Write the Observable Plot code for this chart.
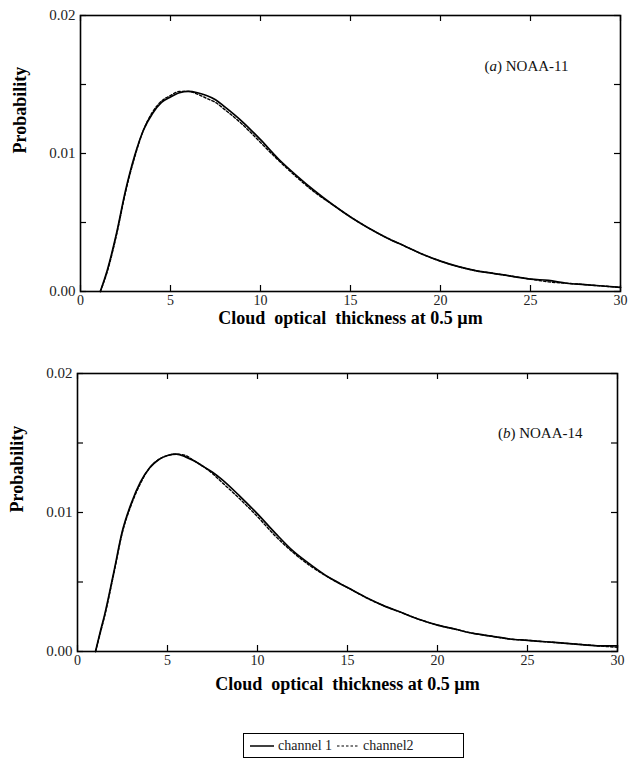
<!DOCTYPE html>
<html>
<head>
<meta charset="utf-8">
<script src="https://cdn.jsdelivr.net/npm/d3@7"></script>
<script src="https://cdn.jsdelivr.net/npm/@observablehq/plot@0.6"></script>
<style>
  html, body { margin: 0; padding: 0; background: #fff; }
  body { width: 630px; font-family: "Liberation Serif", "DejaVu Serif", serif; }
  #legend {
    margin: 27px 0 0 243px; width: 219px; height: 23px;
    border: 1.5px solid #000; display: flex; align-items: center;
    font-size: 14px; color: #222; box-sizing: content-box;
  }
  #legend svg { display: block; }
  #legend .item { display: flex; align-items: center; }
</style>
</head>
<body>
<div id="panelA"></div>
<div id="panelB"></div>
<div id="legend">
  <div class="item" style="margin-left:6px"><svg width="24" height="10"><line x1="0" x2="24" y1="5" y2="5" stroke="#000" stroke-width="1.5"/></svg><span style="margin-left:4px">channel 1</span></div>
  <div class="item" style="margin-left:5px"><svg width="22" height="10"><line x1="0" x2="22" y1="5" y2="5" stroke="#000" stroke-width="1.2" stroke-dasharray="2.5,2"/></svg><span style="margin-left:4px">channel2</span></div>
</div>
<script>
// ---------- data ----------
const seriesNames = ["channel 1", "channel2"];

// Panel (a) NOAA-11
const xA = [1.1, 1.5, 2.0, 2.5, 3.0, 3.5, 4.0, 4.5, 5.0, 5.5, 6.0, 6.5, 7.0, 7.5, 8.0, 9, 10, 11, 12, 13, 14, 15, 16, 17, 18, 19, 20, 21, 22, 23, 24, 25, 26, 27, 28, 29, 30];
const aCh1 = [0.0000, 0.0016, 0.0042, 0.0073, 0.0098, 0.0117, 0.0129, 0.0137, 0.0141, 0.0144, 0.0145, 0.0144, 0.0142, 0.0139, 0.0134, 0.0123, 0.0110, 0.0096, 0.0084, 0.0073, 0.0063, 0.0054, 0.0046, 0.0039, 0.0033, 0.0027, 0.0022, 0.0018, 0.0015, 0.0013, 0.0011, 0.0009, 0.0008, 0.0006, 0.0005, 0.0004, 0.0003];
const aCh2 = [0.0000, 0.0015, 0.0041, 0.0072, 0.0097, 0.0117, 0.0130, 0.0138, 0.0142, 0.0145, 0.0145, 0.0143, 0.0140, 0.0137, 0.0132, 0.0121, 0.0108, 0.0095, 0.0083, 0.0072, 0.0063, 0.0054, 0.0046, 0.0039, 0.0033, 0.0027, 0.0022, 0.0018, 0.0015, 0.0013, 0.0011, 0.0009, 0.0007, 0.0006, 0.0005, 0.0004, 0.0003];

// Panel (b) NOAA-14
const xB = [1.0, 1.3, 1.5, 2.0, 2.5, 3.0, 3.5, 4.0, 4.5, 5.0, 5.5, 6.0, 6.5, 7.0, 7.5, 8.0, 9, 10, 11, 12, 13, 14, 15, 16, 17, 18, 19, 20, 21, 22, 23, 24, 25, 26, 27, 28, 29, 30];
const bCh1 = [0.0000, 0.0016, 0.0026, 0.0056, 0.0087, 0.0107, 0.0122, 0.0132, 0.0138, 0.0141, 0.0142, 0.0140, 0.0137, 0.0133, 0.0129, 0.0124, 0.0112, 0.0099, 0.0085, 0.0072, 0.0062, 0.0053, 0.0046, 0.0039, 0.0033, 0.0028, 0.0023, 0.0019, 0.0016, 0.0013, 0.0011, 0.0009, 0.0008, 0.0007, 0.0006, 0.0005, 0.0004, 0.0004];
const bCh2 = [0.0000, 0.0015, 0.0025, 0.0055, 0.0086, 0.0106, 0.0121, 0.0132, 0.0138, 0.0141, 0.0142, 0.0141, 0.0137, 0.0133, 0.0128, 0.0122, 0.0110, 0.0097, 0.0083, 0.0071, 0.0061, 0.0053, 0.0046, 0.0039, 0.0033, 0.0028, 0.0023, 0.0019, 0.0016, 0.0013, 0.0011, 0.0009, 0.0008, 0.0007, 0.0006, 0.0005, 0.0004, 0.0003];

// ticks and labels
const xTicks = [0, 5, 10, 15, 20, 25, 30];
const yTickLabels = [0, 0.01, 0.02];
const yTicksAll = [0, 0.005, 0.01, 0.015, 0.02];
const xTitle = "Cloud  optical  thickness at 0.5 \u00b5m";
const yTitle = "Probability";
const panelLetters = ["a", "b"];
const panelNames = ["NOAA-11", "NOAA-14"];

function toRows(xs, c1, c2) {
  const rows = [];
  xs.forEach((x, i) => {
    rows.push({x, y: c1[i], s: seriesNames[0]});
    rows.push({x, y: c2[i], s: seriesNames[1]});
  });
  return rows;
}

function panel({xs, c1, c2, letter, name, marginTop, marginBottom, marginLeft, marginRight, height, labelDx, labelDy, titleDy}) {
  const rows = toRows(xs, c1, c2);
  const plotW = 630 - marginLeft - marginRight;
  const plotH = height - marginTop - marginBottom;
  const tk = 6;
  const svg = Plot.plot({
    width: 630, height, marginTop, marginBottom, marginLeft, marginRight,
    style: {fontFamily: "Liberation Serif, serif", fontSize: "15px", background: "#fff", color: "#222"},
    x: {domain: [0, 30]},
    y: {domain: [0, 0.02]},
    marks: [
      Plot.line(rows.filter(d => d.s === seriesNames[0]), {x: "x", y: "y", stroke: "#000", strokeWidth: 1.7, curve: "monotone-x"}),
      Plot.line(rows.filter(d => d.s === seriesNames[1]), {x: "x", y: "y", stroke: "#000", strokeWidth: 1.4, strokeDasharray: "2.5,2", curve: "monotone-x"}),
      // inward ticks on all four sides
      Plot.ruleX(xTicks, {x: d => d, insetTop: plotH - tk, stroke: "#000", strokeWidth: 1.2}),
      Plot.ruleX(xTicks, {x: d => d, insetBottom: plotH - tk, stroke: "#000", strokeWidth: 1.2}),
      Plot.ruleY(yTicksAll, {y: d => d, insetRight: plotW - tk, stroke: "#000", strokeWidth: 1.2}),
      Plot.ruleY(yTicksAll, {y: d => d, insetLeft: plotW - tk, stroke: "#000", strokeWidth: 1.2}),
      Plot.frame({stroke: "#000", strokeWidth: 1.6}),
      Plot.axisX(xTicks, {tickSize: 0, tickPadding: 4, label: null, fontSize: 14}),
      Plot.axisY(yTickLabels, {tickSize: 0, tickPadding: 5, label: null, tickFormat: d3.format(".2f"), fontSize: 15}),
      Plot.text([xTitle], {text: d => d, frameAnchor: "bottom", dy: titleDy, fontSize: 18, fontWeight: "bold", fill: "#000"}),
      Plot.text([yTitle], {text: d => d, frameAnchor: "left", rotate: -90, dx: -60, fontSize: 18, fontWeight: "bold", fill: "#000"}),
      Plot.text([`(${letter}) ${name}`], {text: d => d, frameAnchor: "top-right", textAnchor: "end", dx: labelDx, dy: labelDy, fontSize: 15, fill: "#111"})
    ]
  });
  // italicize the panel letter
  svg.querySelectorAll("text").forEach(t => {
    if (t.textContent === `(${letter}) ${name}`) {
      t.textContent = "";
      const ns = "http://www.w3.org/2000/svg";
      const p1 = document.createElementNS(ns, "tspan"); p1.textContent = "(";
      const p2 = document.createElementNS(ns, "tspan"); p2.textContent = letter; p2.setAttribute("font-style", "italic");
      const p3 = document.createElementNS(ns, "tspan"); p3.textContent = ") " + name;
      t.append(p1, p2, p3);
    }
  });
  return svg;
}

document.getElementById("panelA").append(panel({
  xs: xA, c1: aCh1, c2: aCh2, letter: panelLetters[0], name: panelNames[0],
  marginTop: 15, marginBottom: 59, marginLeft: 80, marginRight: 10, height: 350,
  labelDx: -52, labelDy: 45, titleDy: 32
}));
document.getElementById("panelB").append(panel({
  xs: xB, c1: bCh1, c2: bCh2, letter: panelLetters[1], name: panelNames[1],
  marginTop: 23, marginBottom: 55, marginLeft: 77, marginRight: 13, height: 356,
  labelDx: -35, labelDy: 54, titleDy: 38
}));
</script>
</body>
</html>
